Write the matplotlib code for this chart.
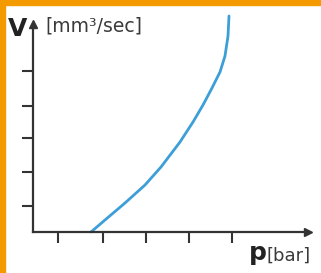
import matplotlib
matplotlib.use("Agg")
import matplotlib.pyplot as plt
from matplotlib.patches import Rectangle

# curve (pixel offsets from the origin)
p_vals = [58, 72, 92, 112, 128, 147, 160, 170, 179, 187, 192, 195, 196]
v_vals = [0, 12, 29, 47, 65, 90, 110, 127, 144, 160, 176, 196, 216]

x_ticks = [25, 70, 113, 156, 199]
y_ticks = [26, 60, 94, 126, 161]

W, H = 321, 273
fig = plt.figure(figsize=(W / 100, H / 100), dpi=100)
fig.patch.set_facecolor("white")

# orange frame on top and left
fig.patches.append(Rectangle((0, 1 - 5 / H), 1, 5 / H, transform=fig.transFigure,
                             color="#f29a00", zorder=0))
fig.patches.append(Rectangle((0, 0), 5 / W, 1, transform=fig.transFigure,
                             color="#f29a00", zorder=0))

x0, y0 = 33, 232
x1, y1 = 312, 20
ax = fig.add_axes([x0 / W, (H - y0) / H, (x1 - x0) / W, (y0 - y1) / H])
ax.set_xlim(0, x1 - x0)
ax.set_ylim(0, y0 - y1)
ax.patch.set_alpha(0)

axis_col = "#333333"
for s in ["top", "right"]:
    ax.spines[s].set_visible(False)
for s in ["left", "bottom"]:
    ax.spines[s].set_color(axis_col)
    ax.spines[s].set_linewidth(1.6)
ax.spines["bottom"].set_bounds(0, x1 - x0 - 6)
ax.spines["left"].set_bounds(0, y0 - y1 - 6)

ax.set_xticks(x_ticks)
ax.set_yticks(y_ticks)
ax.tick_params(direction="out", length=8, width=1.5, color=axis_col,
               labelbottom=False, labelleft=False)

# arrow heads
ax.plot([x1 - x0 - 4], [0], marker=">", ms=6, color=axis_col, clip_on=False)
ax.plot([0], [y0 - y1 - 4], marker="^", ms=6, color=axis_col, clip_on=False)

ax.plot(p_vals, v_vals, color="#3d9ed8", lw=2.0, solid_capstyle="round",
        solid_joinstyle="round", clip_on=False)

txt_col = "#222222"
fig.text(8 / W, 1 - 36 / H, "V", fontsize=18, fontweight="bold", color=txt_col)
fig.text(45 / W, 1 - 32 / H, "[mm³/sec]", fontsize=13.5, color="#3a3a3a")
fig.text(249 / W, 1 - 260 / H, "p", fontsize=18, fontweight="bold", color=txt_col)
fig.text(267 / W, 1 - 261 / H, "[bar]", fontsize=13, color="#3a3a3a")

fig.savefig("out.png", dpi=100)
